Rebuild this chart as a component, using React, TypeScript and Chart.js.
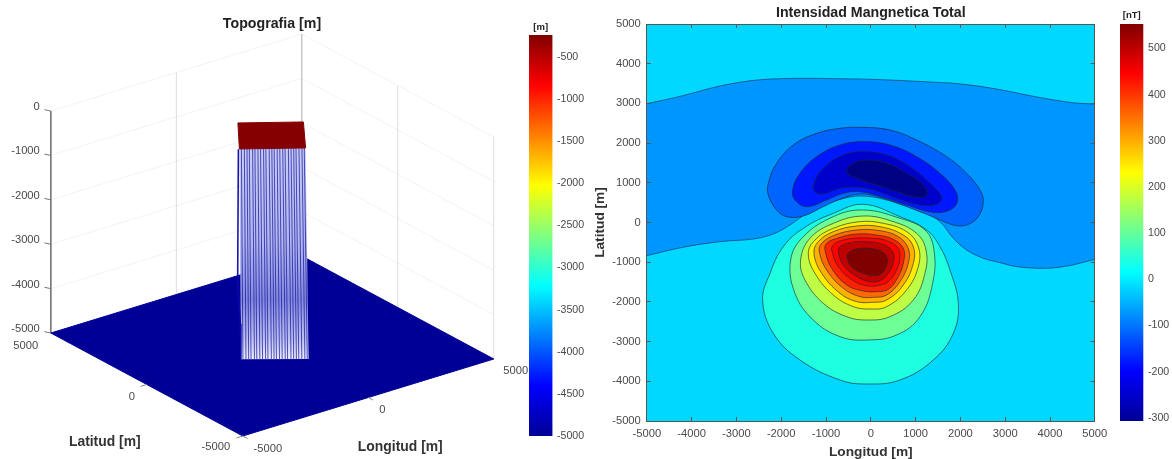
import React, { useEffect, useRef } from "react";
import { Chart, registerables } from "chart.js";

Chart.register(...registerables);

// ---------- data: right panel (lon, lat in metres) ----------
const mapTicks = [-5000, -4000, -3000, -2000, -1000, 0, 1000, 2000, 3000, 4000, 5000];

const negativeBand = [
  [-5700, 2840], [-5000, 2993], [-4196, 3195], [-3368, 3438], [-2539, 3589], [-1628, 3631], [-800, 3623], [29, 3606],
  [1189, 3547], [2017, 3489], [2846, 3354], [3675, 3169], [4503, 3018], [5000, 2985], [5700, 2950],
  [5700, -780], [5000, -928], [4503, -1071], [3923, -1154], [3260, -1112], [2883, -1011], [2511, -902], [2139, -692],
  [1842, -398], [1544, 21], [1172, 273], [651, 466], [205, 609], [-242, 668], [-688, 584], [-1060, 441],
  [-1432, 231], [-1804, -63], [-2176, -289], [-2622, -416], [-3368, -483], [-4196, -625], [-5000, -835], [-5700, -1000],
];
const negative1 = [
  [-242, 2397], [428, 2330], [1023, 2078], [1693, 1659], [2139, 1239], [2437, 819], [2511, 525], [2400, 147],
  [2139, -63], [1842, -63], [1470, 105], [800, 399], [205, 634], [-242, 718], [-688, 584], [-1060, 399],
  [-1506, 164], [-1878, 147], [-2102, 315], [-2288, 693], [-2288, 987], [-2102, 1491], [-1730, 1952],
  [-1209, 2246], [-688, 2372],
];
const negative2 = [
  [-167, 2036], [428, 1952], [1023, 1659], [1544, 1239], [1879, 819], [1931, 525], [1767, 315], [1395, 256],
  [800, 441], [279, 634], [-242, 777], [-614, 735], [-986, 567], [-1432, 399], [-1692, 567], [-1744, 819],
  [-1581, 1239], [-1209, 1659], [-688, 1952],
];
const negative3 = [
  [-167, 1785], [354, 1701], [874, 1407], [1321, 987], [1581, 634], [1470, 458], [1098, 441], [577, 609],
  [56, 819], [-316, 886], [-688, 861], [-1060, 718], [-1246, 777], [-1268, 987], [-1060, 1365], [-614, 1701],
];
const negative4 = [
  [-93, 1575], [354, 1491], [800, 1239], [1172, 945], [1246, 693], [1023, 634], [577, 777], [130, 945],
  [-316, 1113], [-539, 1281], [-390, 1491],
];
const positive1 = [
  [-2414, -1952], [-2176, -2792], [-1581, -3463], [-688, -3967], [-93, -4068], [651, -3967], [1395, -3463],
  [1842, -2792], [1953, -2036], [1767, -1196], [1544, -609], [1246, -189], [651, 147], [-167, 458],
  [-837, 231], [-1506, -147], [-1953, -609], [-2250, -1280],
];
const positive2 = [
  [-1789, -944], [-1692, -1784], [-1283, -2456], [-688, -2875], [-93, -2960], [577, -2833], [1098, -2372],
  [1380, -1532], [1410, -693], [1209, -189], [651, 105], [-167, 315], [-837, 147], [-1506, -357],
];
const positive3 = [
  [-1566, -944], [-1469, -1448], [-1060, -2036], [-539, -2372], [-93, -2456], [428, -2372], [949, -1952],
  [1209, -1280], [1232, -693], [1023, -273], [502, 21], [-167, 164], [-837, -21], [-1358, -399],
];
const positive4 = [
  [-1395, -777], [-1246, -1280], [-837, -1826], [-390, -2120], [-18, -2179], [354, -2120], [800, -1700],
  [1060, -1112], [1060, -609], [800, -231], [279, -21], [-242, 21], [-837, -147], [-1246, -441],
];
const positive5 = [
  [-1268, -777], [-1097, -1280], [-688, -1784], [-316, -1994], [19, -2011], [354, -1952], [726, -1574],
  [949, -1028], [949, -609], [726, -315], [205, -105], [-316, -88], [-837, -231], [-1172, -483],
];
const positive6 = [
  [-1149, -735], [-986, -1196], [-614, -1658], [-242, -1868], [56, -1885], [354, -1826], [651, -1490],
  [837, -1028], [837, -651], [614, -357], [205, -206], [-316, -189], [-800, -315], [-1097, -525],
];
const positive7 = [
  [-1023, -693], [-874, -1154], [-539, -1574], [-167, -1725], [130, -1742], [391, -1683], [614, -1364],
  [741, -944], [726, -651], [502, -424], [130, -315], [-316, -290], [-762, -399], [-986, -525],
];
const positive8 = [
  [-874, -693], [-725, -1112], [-390, -1465], [-56, -1599], [205, -1574], [391, -1490], [577, -1196],
  [651, -860], [592, -625], [354, -457], [56, -399], [-390, -399], [-725, -483], [-852, -592],
];
const positive9 = [
  [-725, -735], [-614, -1070], [-316, -1364], [-18, -1490], [205, -1465], [391, -1280], [517, -944],
  [465, -693], [242, -541], [-93, -483], [-465, -508], [-688, -609],
];
const positive10 = [
  [-524, -902], [-428, -1112], [-167, -1280], [56, -1339], [242, -1280], [354, -1070], [354, -860],
  [205, -709], [-93, -651], [-353, -676], [-502, -777],
];
const closedContours = [
  negative1, negative2, negative3, negative4,
  positive1, positive2, positive3, positive4, positive5, positive6, positive7, positive8, positive9, positive10,
];
const contourColors = [
  "#0064FF", "#0018FF", "#0000CC", "#000082",
  "#1EFFE2", "#6EFF96", "#BEFF46", "#FFEE00", "#FFB000", "#FF6A00", "#FF2000", "#FF0000", "#BE0000", "#800000",
];

// ---------- data: left panel (lon, lat, elevation in metres) ----------
const elevationTicks = [0, -1000, -2000, -3000, -4000, -5000];
const floorCorners = [[-5000, 5000], [-5000, -5000], [5000, -5000], [5000, 5000]];
const topCorners = [[-319, 1375], [1388, 195], [216, -1452], [-1510, -260]];
const baseFrontLeft = [-1424, -226];
const baseFrontRight = [306, -1491];
const topElevation = -240;
const floorElevation = -5000;
const stripePositions = [
  0.03, 0.075, 0.115, 0.15, 0.2, 0.235, 0.28, 0.32, 0.365, 0.4, 0.45, 0.49, 0.525, 0.57, 0.61,
  0.655, 0.69, 0.74, 0.78, 0.82, 0.855, 0.9, 0.945, 0.98,
];

// ---------- data: colour bars ----------
const jetStops = ["#000096", "#0000FF", "#00FFFF", "#FFFF00", "#FF0000", "#800000"];
const jetOffsets = [0, 0.125, 0.375, 0.625, 0.875, 1];
const topoRange = [-5000, -240];
const topoTicks = [-5000, -4500, -4000, -3500, -3000, -2500, -2000, -1500, -1000, -500];
const magRange = [-307, 553];
const magTicks = [-300, -200, -100, 0, 100, 200, 300, 400, 500];

// ---------- styles ----------
const FONT = '"Liberation Sans", Arial, sans-serif';
const GREY = "#4a4a4a";
const tickFont = { family: FONT, size: 11.2 };
const titleFont = { family: FONT, size: 14.2, weight: "bold" as const };
const axisFont = { family: FONT, size: 13.7, weight: "bold" as const };

const setTicks = (vals: number[]) => (s: any) => {
  s.ticks = vals.map((value) => ({ value }));
};

// Orthographic view of the 3-D box, into the left chart's linear scales
const project = (lon: number, lat: number, z: number) => ({
  x: 272.3 + 0.0251 * lon - 0.0192 * lat,
  y: 346 - 0.0077 * lon - 0.0103 * lat - 0.0444 * (z + 5000),
});

const closeLoop = (pts: number[][]) => {
  const n = pts.length;
  return [pts[n - 1], ...pts, pts[0], pts[1]].map(([x, y]) => ({ x, y }));
};

function makeMapChart(canvas: HTMLCanvasElement) {
  const lineColor = "rgba(25,40,50,0.8)";
  const fills: any[] = [
    {
      data: negativeBand.map(([x, y]) => ({ x, y })),
      backgroundColor: "#0096FF",
      borderColor: "rgba(20,50,90,0.8)",
      borderWidth: 0.8,
      fill: "shape",
      tension: 0.35,
      pointRadius: 0,
      showLine: true,
    },
    ...closedContours.map((c, i) => {
      const last = c.length + 2;
      return {
        data: closeLoop(c),
        backgroundColor: contourColors[i],
        borderColor: lineColor,
        borderWidth: 0.8,
        fill: "shape",
        tension: 0.4,
        pointRadius: 0,
        showLine: true,
        segment: {
          borderColor: (ctx: any) => (ctx.p0DataIndex === 0 || ctx.p1DataIndex === last ? "transparent" : lineColor),
        },
      };
    }),
  ];
  fills.forEach((d, i) => (d.order = -i));
  const axisBase = {
    type: "linear",
    min: -5000,
    max: 5000,
    afterBuildTicks: setTicks(mapTicks),
    grid: { drawOnChartArea: false, drawTicks: true, tickLength: -4, color: "#555", z: 1 },
    border: { color: "#555", width: 1, z: 1 },
  };
  return new Chart(canvas, {
    type: "scatter",
    data: { datasets: fills },
    plugins: [
      {
        id: "mapBackground",
        beforeDatasetsDraw(chart: any) {
          const { ctx, chartArea: a } = chart;
          ctx.save();
          ctx.fillStyle = "#00D8FF";
          ctx.fillRect(a.left, a.top, a.right - a.left, a.bottom - a.top);
          ctx.restore();
        },
      },
    ],
    options: {
      responsive: false,
      animation: false,
      layout: { padding: { right: 15.2 }, autoPadding: false },
      plugins: {
        legend: { display: false },
        tooltip: { enabled: false },
        title: {
          display: true,
          text: "Intensidad Mangnetica Total",
          fullSize: false,
          font: titleFont,
          color: "#222",
          padding: { top: 4.4, bottom: 2.56 },
        },
      },
      scales: {
        x: {
          ...axisBase,
          position: "bottom",
          ticks: { font: tickFont, color: GREY, padding: 10, maxRotation: 0, autoSkip: false, callback: (v: any) => String(v) },
          title: { display: true, text: "Longitud [m]", font: axisFont, color: "#333", padding: { top: 0, bottom: -1.2 } },
          afterFit: (s: any) => { s.height = 38; s.paddingLeft = 0; s.paddingRight = 0; },
        },
        x2: {
          ...axisBase,
          position: "top",
          ticks: { display: false },
          afterFit: (s: any) => { s.height = 0; s.paddingLeft = 0; s.paddingRight = 0; },
        },
        y: {
          ...axisBase,
          position: "left",
          ticks: { font: tickFont, color: GREY, padding: 10, autoSkip: false, callback: (v: any) => String(v) },
          title: { display: true, text: "Latitud [m]", font: axisFont, color: "#333", padding: 0 },
          afterFit: (s: any) => { s.width = 54.8; },
        },
        y2: {
          ...axisBase,
          position: "right",
          ticks: { display: false },
          afterFit: (s: any) => { s.width = 0; },
        },
      },
    } as any,
  } as any);
}

function makeTopoChart(canvas: HTMLCanvasElement) {
  const ctx2d = canvas.getContext("2d")!;
  const faceGradient = ctx2d.createLinearGradient(0, 148, 0, 359);
  faceGradient.addColorStop(0, "#C8CCF4");
  faceGradient.addColorStop(0.45, "#B4B8EC");
  faceGradient.addColorStop(0.72, "#858BDC");
  faceGradient.addColorStop(0.9, "#BCC0EE");
  faceGradient.addColorStop(1, "#ECEEFC");

  const seg = (points: any[], color: string, width = 1, extra: any = {}) => ({
    data: points,
    borderColor: color,
    borderWidth: width,
    pointRadius: 0,
    showLine: true,
    backgroundColor: "transparent",
    ...extra,
  });
  const wall = "rgba(0,0,0,0.05)";
  const datasets: any[] = [];

  // back walls
  elevationTicks.slice(0, 5).forEach((z) => {
    datasets.push(seg([project(-5000, 5000, z), project(5000, 5000, z), project(5000, -5000, z)], wall));
  });
  datasets.push(seg([project(0, 5000, 0), project(0, 5000, -5000)], wall));
  datasets.push(seg([project(5000, 0, 0), project(5000, 0, -5000)], wall));
  datasets.push(seg([project(5000, 5000, 0), project(5000, 5000, -5000)], "rgba(0,0,0,0.12)"));
  datasets.push(seg([project(5000, -5000, 0), project(5000, -5000, -5000)], wall));

  // z axis and ticks
  datasets.push(seg([project(-5000, 5000, 0), project(-5000, 5000, -5000)], "#777"));
  elevationTicks.forEach((z) => {
    datasets.push(seg([project(-5000, 5000, z), project(-5100, 5200, z)], "#777"));
  });

  // floor
  datasets.push(
    seg(floorCorners.concat([floorCorners[0]]).map(([a, b]) => project(a, b, floorElevation)), "#000096", 1, {
      fill: "shape",
      backgroundColor: "#000096",
    })
  );

  // floor edge ticks
  [0, -5000].forEach((lat) => datasets.push(seg([project(-5000, lat, floorElevation), project(-5250, lat, floorElevation)], "#888")));
  [0, -5000].forEach((lon) => datasets.push(seg([project(lon, -5000, floorElevation), project(lon, -5250, floorElevation)], "#888")));

  // column front face
  const topFL = topCorners[3];
  const topFR = topCorners[2];
  datasets.push(
    seg(
      [project(topFL[0], topFL[1], topElevation), project(topFR[0], topFR[1], topElevation),
       project(baseFrontRight[0], baseFrontRight[1], floorElevation), project(baseFrontLeft[0], baseFrontLeft[1], floorElevation),
       project(topFL[0], topFL[1], topElevation)],
      "transparent", 0, { fill: "shape", backgroundColor: faceGradient }
    )
  );
  stripePositions.forEach((t) => {
    const lerp = (a: number[], b: number[]) => [a[0] + (b[0] - a[0]) * t, a[1] + (b[1] - a[1]) * t];
    const p = lerp(topFL, topFR);
    const q = lerp(baseFrontLeft, baseFrontRight);
    datasets.push(seg([project(p[0], p[1], topElevation), project(q[0], q[1], floorElevation)], "rgba(20,20,165,0.72)", 1));
  });
  // left edge of the column
  datasets.push(
    seg(
      [project(topFL[0] - 40, topFL[1], topElevation), project(topFL[0] - 70, topFL[1], -3300), project(baseFrontLeft[0] - 20, baseFrontLeft[1], -4200), project(baseFrontLeft[0], baseFrontLeft[1], floorElevation)],
      "rgba(10,10,170,0.95)", 1.6
    )
  );
  // column top
  datasets.push(
    seg(topCorners.concat([topCorners[0]]).map(([a, b]) => project(a, b, topElevation)), "#850000", 1, {
      fill: "shape",
      backgroundColor: "#850000",
    })
  );
  datasets.forEach((d, i) => (d.order = -i));

  const floorLabels: [string, number, number, number, number][] = [
    ["5000", -5000, 5000, -25, 13],
    ["0", -5000, 0, -15, 12.5],
    ["-5000", -5000, -5000, -27, 11],
    ["-5000", -5000, -5000, 25, 13],
    ["0", 0, -5000, 14, 12.5],
    ["5000", 5000, -5000, 22, 12],
  ];
  const axisLabels: [string, number, number, number, number][] = [
    ["Latitud [m]", -5000, 0, -42, 57.5],
    ["Longitud [m]", 0, -5000, 32, 49.5],
  ];

  return new Chart(canvas, {
    type: "scatter",
    data: { datasets },
    plugins: [
      {
        id: "boxLabels",
        afterDatasetsDraw(chart: any) {
          const { ctx, scales } = chart;
          const px = (p: { x: number; y: number }) => [scales.x.getPixelForValue(p.x), scales.y.getPixelForValue(p.y)];
          ctx.save();
          ctx.textBaseline = "middle";
          ctx.fillStyle = GREY;
          ctx.font = `11.2px ${FONT}`;
          ctx.textAlign = "right";
          elevationTicks.forEach((z) => {
            const [x, y] = px(project(-5000, 5000, z));
            ctx.fillText(String(z), x - 11, y - 4);
          });
          ctx.textAlign = "center";
          floorLabels.forEach(([t, lon, lat, dx, dy]) => {
            const [x, y] = px(project(lon, lat, floorElevation));
            ctx.fillText(t, x + dx, y + dy);
          });
          ctx.font = `bold 13.9px ${FONT}`;
          ctx.fillStyle = "#333";
          axisLabels.forEach(([t, lon, lat, dx, dy]) => {
            const [x, y] = px(project(lon, lat, floorElevation));
            ctx.fillText(t, x + dx, y + dy);
          });
          ctx.restore();
        },
      },
    ],
    options: {
      responsive: false,
      animation: false,
      plugins: {
        legend: { display: false },
        tooltip: { enabled: false },
        title: {
          display: true,
          text: "Topografia [m]",
          font: titleFont,
          color: "#222",
          padding: { top: 16, bottom: 0.56 },
        },
      },
      scales: {
        x: { type: "linear", display: false, min: 0, max: 544 },
        y: { type: "linear", display: false, min: 33.6, max: 459, reverse: true },
      },
    } as any,
  } as any);
}

function makeColorBar(
  canvas: HTMLCanvasElement,
  range: number[],
  ticks: number[],
  unit: string,
  top: number,
  bottom: number,
  axisWidth: number,
  titlePad: number,
  labelPad: number
) {
  const g = canvas.getContext("2d")!.createLinearGradient(0, bottom, 0, top);
  jetStops.forEach((c, i) => g.addColorStop(jetOffsets[i], c));
  return new Chart(canvas, {
    type: "bar",
    data: {
      labels: [unit],
      datasets: [
        {
          data: [[range[0], range[1]]],
          backgroundColor: g,
          barPercentage: 1,
          categoryPercentage: 1,
          borderSkipped: false,
        },
      ],
    },
    options: {
      responsive: false,
      animation: false,
      layout: { padding: { bottom: canvas.height - bottom }, autoPadding: false },
      plugins: { legend: { display: false }, tooltip: { enabled: false } },
      scales: {
        x: {
          position: "top",
          offset: true,
          grid: { display: false, drawTicks: false },
          border: { display: false },
          ticks: { display: false },
          title: { display: true, text: unit, font: { family: FONT, size: 9.5, weight: "bold" }, color: "#222", padding: { top: titlePad, bottom: 0 } },
          afterFit: (s: any) => { s.height = top; },
        },
        y: {
          position: "right",
          min: range[0],
          max: range[1],
          afterBuildTicks: setTicks(ticks),
          grid: { display: false, drawTicks: false },
          border: { display: false },
          ticks: { font: { family: FONT, size: 10.6 }, color: GREY, padding: labelPad, autoSkip: false, callback: (v: any) => String(v) },
          afterFit: (s: any) => { s.width = axisWidth; },
        },
      },
    } as any,
  } as any);
}

export default function App() {
  const topo = useRef<HTMLCanvasElement>(null);
  const map = useRef<HTMLCanvasElement>(null);
  const barA = useRef<HTMLCanvasElement>(null);
  const barB = useRef<HTMLCanvasElement>(null);

  useEffect(() => {
    const charts = [
      makeTopoChart(topo.current!),
      makeColorBar(barA.current!, topoRange, topoTicks, "[m]", 35, 436, 36.5, 21.5, 4.5),
      makeMapChart(map.current!),
      makeColorBar(barB.current!, magRange, magTicks, "[nT]", 24, 421, 28.6, 9.5, 4.6),
    ];
    return () => charts.forEach((c) => c.destroy());
  }, []);

  const abs = (left: number, top: number): React.CSSProperties => ({ position: "absolute", left, top, display: "block" });
  return (
    <div style={{ position: "fixed", left: 0, top: 0, width: 1172, height: 459, background: "#fff", overflow: "hidden", filter: "blur(0.45px)" }}>
      <canvas ref={topo} width={544} height={459} style={abs(0, 0)} />
      <canvas ref={barA} width={60} height={459} style={abs(529, 0)} />
      <canvas ref={map} width={518} height={459} style={abs(592, 0)} />
      <canvas ref={barB} width={52} height={459} style={abs(1120, 0)} />
    </div>
  );
}
